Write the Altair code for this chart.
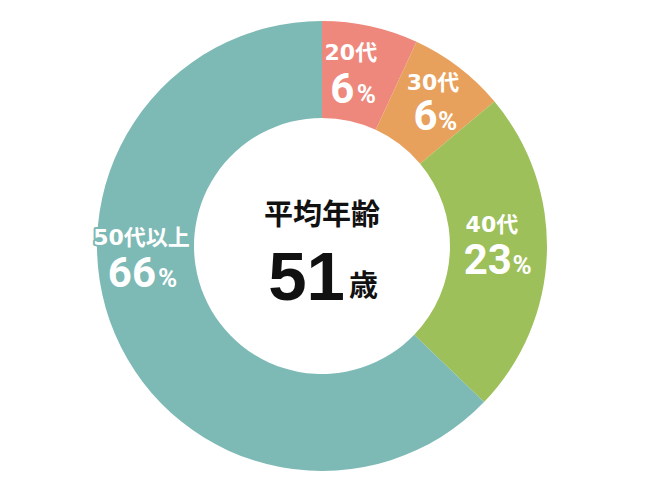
import altair as alt
import pandas as pd

# ---- data ----
categories = ["20代", "30代", "40代", "50代以上"]
shares = [6.9, 7.0, 23.3, 62.8]          # arc sizes as drawn (%)
pct_labels = ["6", "6", "23", "66"]       # printed percentages
colors = ["#EE887D", "#E8A15C", "#9DC05A", "#7DB9B5"]
center_title = ["平均年齢"]
center_value = ["51"]
center_unit = ["歳"]

df = pd.DataFrame({
    "cat": categories,
    "value": shares,
    "num": pct_labels,
    "idx": list(range(len(categories))),
})
total = sum(shares)

theta_scale = alt.Scale(domain=[0, total])
color_scale = alt.Scale(domain=categories, range=colors)

base = (
    alt.Chart(df)
    .transform_window(cum="sum(value)", sort=[alt.SortField("idx", order="ascending")])
    .transform_calculate(start="datum.cum - datum.value", mid="datum.cum - datum.value / 2")
)

arcs = base.mark_arc(outerRadius=225, innerRadius=128).encode(
    theta=alt.Theta("start:Q", scale=theta_scale, stack=None),
    theta2="cum:Q",
    color=alt.Color("cat:N", scale=color_scale, legend=None),
)

# label offsets (style) relative to each slice's mid-angle at radius 176
offsets = {
    "20代":   {"name": (-9, -21.6), "num": (-5.4, 28.9), "pct": (-3.0, 28.9)},
    "30代":   {"name": (4, -22.8),  "num": (8.5, 23.7),  "pct": (9.0, 23.7)},
    "40代":   {"name": (-6, -26.6), "num": (14.0, 21.9), "pct": (14.5, 21.9)},
    "50代以上": {"name": (-18.5, -76.9), "num": (-4.0, -27.9), "pct": (-2.0, -27.9)},
}

NAME_FONT = "DejaVu Sans, Noto Sans CJK JP"
NUM_FONT = "Roboto"

layers = [arcs]
for i, c in enumerate(categories):
    o = offsets[c]
    sub = base.transform_filter(alt.datum.cat == c)
    th = alt.Theta("mid:Q", scale=theta_scale, stack=None)
    name_style = dict(radius=176, dx=o["name"][0], dy=o["name"][1], align="center",
                      baseline="middle", font=NAME_FONT, fontSize=22, fontWeight="bold")
    # halo in the slice colour behind the name (visible where it spills past the ring)
    layers.append(
        sub.mark_text(stroke=colors[i], strokeWidth=4, strokeJoin="round", color=colors[i],
                      **name_style).encode(theta=th, text="cat:N")
    )
    layers.append(
        sub.mark_text(color="white", **name_style).encode(theta=th, text="cat:N")
    )
    layers.append(
        sub.mark_text(radius=176, dx=o["num"][0], dy=o["num"][1], align="right",
                      baseline="alphabetic", font=NUM_FONT, fontSize=42, fontWeight="bold",
                      color="white").encode(theta=th, text="num:N")
    )
    layers.append(
        sub.mark_text(radius=176, dx=o["pct"][0], dy=o["pct"][1], align="left",
                      baseline="alphabetic", font=NUM_FONT, fontSize=26, fontWeight="bold",
                      color="white").encode(theta=th, text=alt.value("%"))
    )

title_layer = alt.Chart(pd.DataFrame({"t": center_title})).mark_text(
    dy=-30.5, align="center", baseline="middle", font="Noto Sans CJK JP",
    fontSize=29, fontWeight="bold", color="#111111"
).encode(text="t:N")

value_layer = alt.Chart(pd.DataFrame({"t": center_value})).mark_text(
    dx=23, dy=54, align="right", baseline="alphabetic", font="Liberation Sans",
    fontSize=69, fontWeight="bold", color="#111111"
).encode(text="t:N")

unit_layer = alt.Chart(pd.DataFrame({"t": center_unit})).mark_text(
    dx=27, dy=50, align="left", baseline="alphabetic", font="Noto Sans CJK JP",
    fontSize=29, fontWeight="bold", color="#111111"
).encode(text="t:N")

layers += [title_layer, value_layer, unit_layer]

chart = (
    alt.layer(*layers)
    .properties(width=628, height=476, padding=0, autosize=alt.AutoSizeParams(type="none"),
                background="white")
    .configure_view(stroke=None)
)

chart.save("out.html", embed_options={"renderer": "svg", "actions": False})
